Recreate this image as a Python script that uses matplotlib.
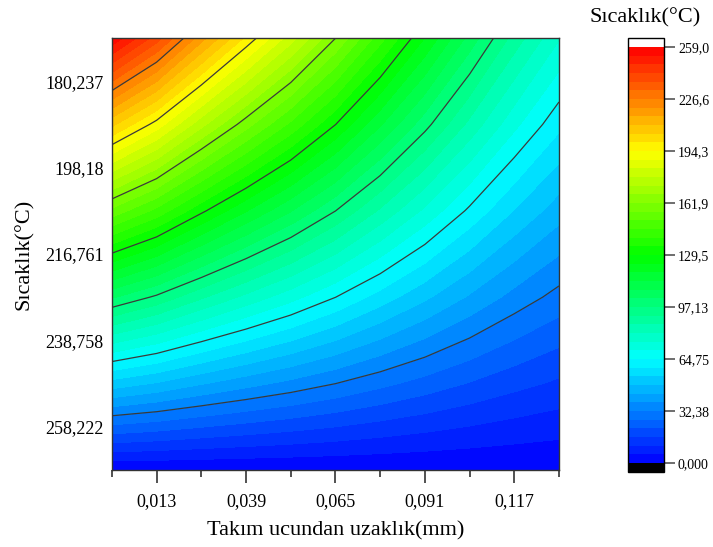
import numpy as np
import matplotlib
matplotlib.use("Agg")
import matplotlib.pyplot as plt
from matplotlib.colors import LinearSegmentedColormap

plt.rcParams['font.family'] = ['Liberation Serif', 'DejaVu Serif']

# grid
x_nodes = [0.000, 0.013, 0.026, 0.039, 0.052, 0.065, 0.078, 0.091, 0.104, 0.117, 0.130]
y_nodes = [0, 1, 2, 3, 4, 5]
temp = [
    [0.0, 0.0, 0.0, 0.0, 0.0, 0.0, 0.0, 0.0, 0.0, 0.0, 0.0],
    [51.6, 48.0, 43.6, 39.7, 36.1, 32.4, 28.5, 24.8, 21.2, 17.9, 15.2],
    [103.2, 96.0, 87.2, 79.4, 72.2, 64.8, 57.0, 49.6, 42.4, 35.8, 30.4],
    [154.8, 144.0, 130.8, 119.1, 108.3, 97.2, 85.5, 74.4, 63.6, 53.7, 45.6],
    [206.4, 192.0, 174.4, 158.8, 144.4, 129.6, 114.0, 99.2, 84.8, 71.6, 60.8],
    [258.0, 240.0, 218.0, 198.5, 180.5, 162.0, 142.5, 124.0, 106.0, 89.5, 76.0],
]

x_ticks = [0.013, 0.039, 0.065, 0.091, 0.117]
x_minor = [0.000, 0.026, 0.052, 0.078, 0.104, 0.130]
x_labels = ["0,013", "0,039", "0,065", "0,091", "0,117"]
y_ticks = [0.5, 1.5, 2.5, 3.5, 4.5]
y_labels = ["258,222", "238,758", "216,761", "198,18", "180,237"]
cb_ticks = [0.0, 32.38, 64.75, 97.13, 129.5, 161.9, 194.3, 226.6, 259.0]
cb_labels = ["0,000", "32,38", "64,75", "97,13", "129,5", "161,9", "194,3", "226,6", "259,0"]

cmap = LinearSegmentedColormap.from_list(
    "rainbow5", ["#0000ff", "#00ffff", "#00ff00", "#ffff00", "#ff0000"])
cmap.set_over("white")
cmap.set_under("black")

fill_levels = np.linspace(0, 259, 49)
line_levels = cb_ticks[1:-1]

fig = plt.figure(figsize=(7.13, 5.47), dpi=100)
ax = fig.add_axes([0.157, 0.1408, 0.627, 0.7897])
cax = fig.add_axes([0.8808, 0.1371, 0.0505, 0.7934])

X, Y = np.meshgrid(x_nodes, y_nodes)
Z = np.array(temp)
cf = ax.contourf(X, Y, Z, levels=fill_levels, cmap=cmap, extend='both')
ax.contour(X, Y, Z, levels=line_levels, colors='#3a3a3a', linewidths=0.9)

ax.set_xlim(0, 0.13)
ax.set_ylim(0, 5)
ax.set_xticks(x_ticks)
ax.set_xticklabels(x_labels, fontsize=13)
ax.set_xticks(x_minor, minor=True)
ax.tick_params(axis='x', which='major', length=9, width=1.2, color='#333333', pad=8)
ax.tick_params(axis='x', which='minor', length=5, width=1.2, color='#333333')
ax.set_yticks(y_ticks)
ax.set_yticklabels(y_labels, fontsize=13)
ax.tick_params(axis='y', length=0, pad=6)
for s in ax.spines.values():
    s.set_color('#333333')
    s.set_linewidth(1.0)

ax.set_xlabel("Takım ucundan uzaklık(mm)", fontsize=16, labelpad=8)
ax.set_ylabel("Sıcaklık(°C)", fontsize=16, labelpad=8)

cb = fig.colorbar(cf, cax=cax, extend='both', extendrect=True, extendfrac=0.022)
cb.set_ticks(cb_ticks)
cb.set_ticklabels(cb_labels)
cb.ax.tick_params(labelsize=10, length=8, width=1.2, color='#555555', pad=2)
cb.outline.set_edgecolor('black')
cb.outline.set_linewidth(1.0)
cb.ax.minorticks_off()
fig.text(0.905, 0.967, "Sıcaklık(°C)", fontsize=16, ha='center', va='center')

fig.savefig("out.png", dpi=100)
